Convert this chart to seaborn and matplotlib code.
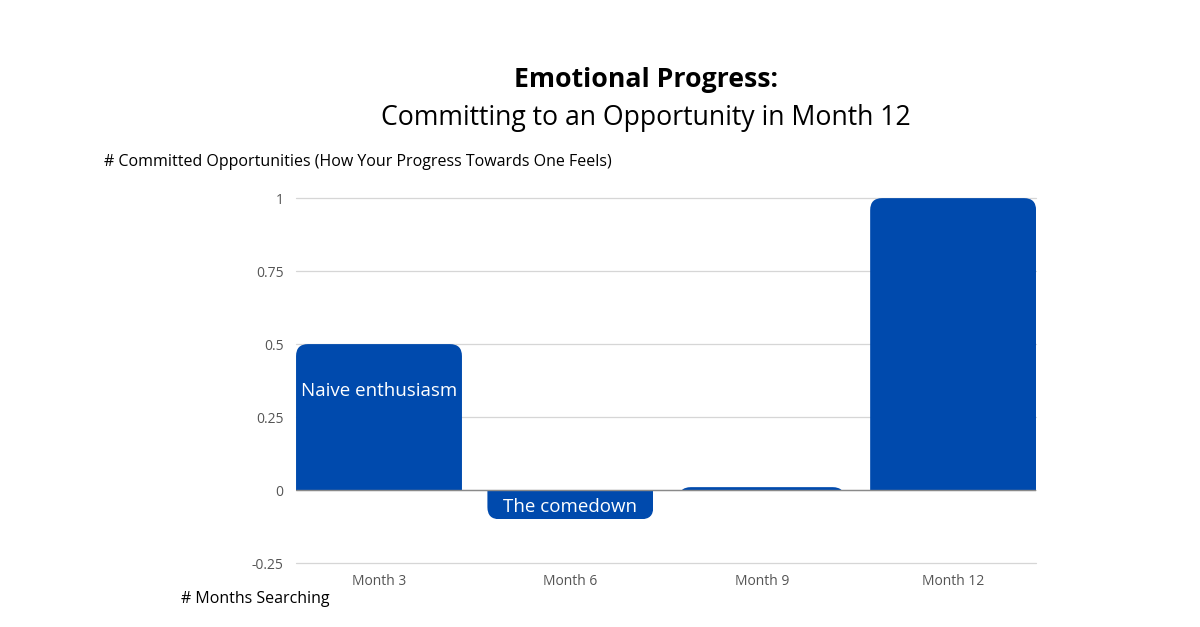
import matplotlib
matplotlib.use("Agg")
import matplotlib.pyplot as plt
from matplotlib.patches import FancyBboxPatch
import pandas as pd
import seaborn as sns

# datos
months = ["Month 3", "Month 6", "Month 9", "Month 12"]
values = [0.5, -0.1, 0.01, 1.0]
bar_labels = ["Naive enthusiasm", "The comedown", "", ""]
y_ticks = [-0.25, 0, 0.25, 0.5, 0.75, 1]
y_tick_labels = ["-0.25", "0", "0.25", "0.5", "0.75", "1"]

BLUE = "#004AAD"
BAR_W = 0.867

sns.set_theme(style="white")
plt.rcParams["font.family"] = ["Open Sans", "DejaVu Sans"]

df = pd.DataFrame({"month": months, "value": values})

fig = plt.figure(figsize=(12, 6.27), dpi=100)
ax = fig.add_axes([0.2467, 0.102, 0.6167, 0.582])

sns.barplot(data=df, x="month", y="value", color=BLUE, width=BAR_W,
            saturation=1, ax=ax, zorder=3)

ax.set_ylim(-0.25, 1)
ax.set_xlim(-BAR_W / 2, len(months) - 1 + BAR_W / 2)
ax.set_yticks(y_ticks)
ax.set_yticklabels(y_tick_labels)
ax.grid(axis="y", color="#d6d6d6", linewidth=0.9, zorder=0)
for gl in ax.get_ygridlines():
    gl.set_clip_on(False)
ax.axhline(0, color="#8a8a8a", linewidth=1, zorder=4)
sns.despine(ax=ax, left=True, bottom=True, top=True, right=True)
ax.tick_params(axis="both", length=0, labelsize=10, labelcolor="#555555")
ax.tick_params(axis="y", pad=9)
ax.tick_params(axis="x", pad=8)
ax.set_xlabel("")
ax.set_ylabel("")

# esquinas redondeadas (solo en el extremo libre de cada barra)
fig.canvas.draw()
px_x = ax.transData.transform((1, 0))[0] - ax.transData.transform((0, 0))[0]
px_y = ax.transData.transform((0, 1))[1] - ax.transData.transform((0, 0))[1]
aspect = px_x / px_y
r = 12 / px_x
bars = list(ax.patches)
for bar in bars:
    x, y, w, h = bar.get_x(), bar.get_y(), bar.get_width(), bar.get_height()
    top = max(y, y + h)
    bot = min(y, y + h)
    ext = r * aspect
    if h >= 0:
        rb, rt = bot - ext, top
    else:
        rb, rt = bot, top + ext
    rounded = FancyBboxPatch((x, rb), w, rt - rb,
                             boxstyle=f"round,pad=0,rounding_size={r}",
                             mutation_aspect=aspect,
                             facecolor=BLUE, edgecolor="none", zorder=3)
    ax.add_patch(rounded)
    rounded.set_clip_path(bar)
    bar.set_visible(False)

for bar, lab, v in zip(bars, bar_labels, values):
    if not lab:
        continue
    cx = bar.get_x() + bar.get_width() / 2
    if v >= 0:
        ax.annotate(lab, (cx, v), xytext=(0, -33.5), textcoords="offset points",
                    ha="center", va="center", color="white", fontsize=13.5, zorder=5)
    else:
        ax.annotate(lab, (cx, v / 2), xytext=(0, -1.5), textcoords="offset points",
                    ha="center", va="center", color="white", fontsize=13.5, zorder=5)

fig.text(0.538, 0.872, "Emotional Progress:", ha="center", va="center",
         fontsize=19.2, fontweight="bold", color="black")
fig.text(0.538, 0.812, "Committing to an Opportunity in Month 12", ha="center",
         va="center", fontsize=19.2, color="black")
fig.text(0.087, 0.741, "# Committed Opportunities (How Your Progress Towards One Feels)",
         ha="left", va="center", fontsize=11.5, color="black")
fig.text(0.151, 0.045, "# Months Searching", ha="left", va="center",
         fontsize=11.5, color="black")

fig.savefig("out.png", dpi=100, facecolor="white")
